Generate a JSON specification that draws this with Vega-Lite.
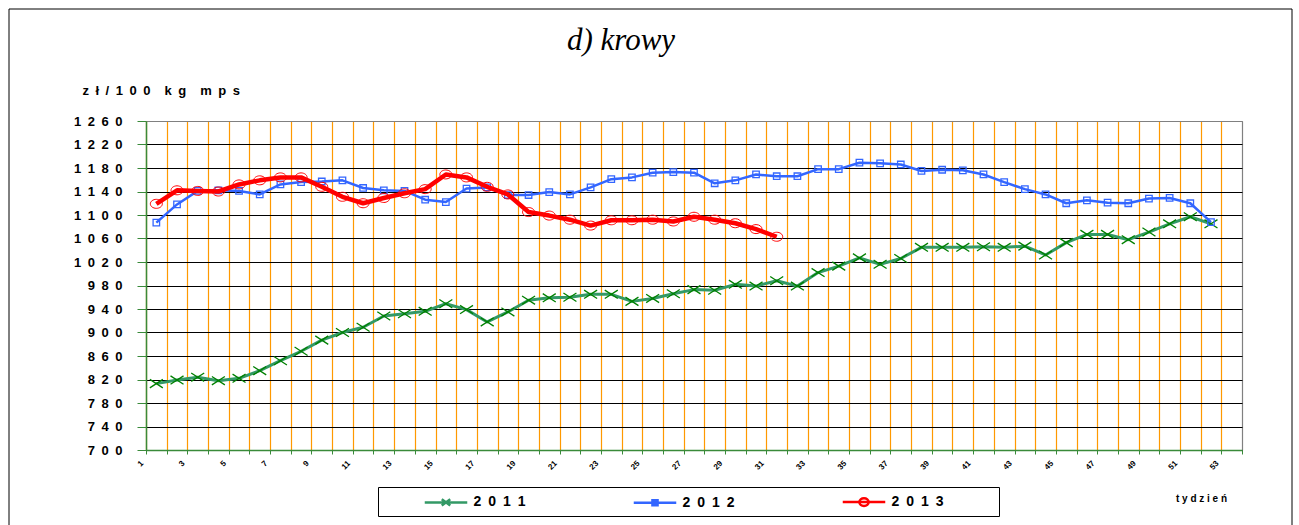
{
  "$schema": "https://vega.github.io/schema/vega-lite/v6.json",
  "width": 1096,
  "height": 329,
  "autosize": {"type": "none"},
  "padding": {"left": 146, "top": 121, "right": 57, "bottom": 75},
  "background": "white",
  "title": {"text": "d) krowy", "font": "Liberation Serif", "fontStyle": "italic", "fontWeight": "normal", "fontSize": 31, "color": "black", "anchor": "middle", "frame": "group", "dx": -73, "offset": -73, "baseline": "alphabetic"},
  "datasets": {
    "prices": [
      {"year":"2011","week":1,"price":813},{"year":"2011","week":2,"price":819},{"year":"2011","week":3,"price":824},{"year":"2011","week":4,"price":818},{"year":"2011","week":5,"price":822},{"year":"2011","week":6,"price":835},{"year":"2011","week":7,"price":852},{"year":"2011","week":8,"price":868},{"year":"2011","week":9,"price":887},{"year":"2011","week":10,"price":900},{"year":"2011","week":11,"price":909},{"year":"2011","week":12,"price":928},{"year":"2011","week":13,"price":932},{"year":"2011","week":14,"price":936},{"year":"2011","week":15,"price":949},{"year":"2011","week":16,"price":939},{"year":"2011","week":17,"price":918},{"year":"2011","week":18,"price":935},{"year":"2011","week":19,"price":955},{"year":"2011","week":20,"price":959},{"year":"2011","week":21,"price":960},{"year":"2011","week":22,"price":965},{"year":"2011","week":23,"price":965},{"year":"2011","week":24,"price":953},{"year":"2011","week":25,"price":958},{"year":"2011","week":26,"price":966},{"year":"2011","week":27,"price":973},{"year":"2011","week":28,"price":972},{"year":"2011","week":29,"price":982},{"year":"2011","week":30,"price":979},{"year":"2011","week":31,"price":988},{"year":"2011","week":32,"price":979},{"year":"2011","week":33,"price":1002},{"year":"2011","week":34,"price":1013},{"year":"2011","week":35,"price":1027},{"year":"2011","week":36,"price":1016},{"year":"2011","week":37,"price":1026},{"year":"2011","week":38,"price":1045},{"year":"2011","week":39,"price":1045},{"year":"2011","week":40,"price":1045},{"year":"2011","week":41,"price":1046},{"year":"2011","week":42,"price":1045},{"year":"2011","week":43,"price":1047},{"year":"2011","week":44,"price":1032},{"year":"2011","week":45,"price":1053},{"year":"2011","week":46,"price":1067},{"year":"2011","week":47,"price":1067},{"year":"2011","week":48,"price":1058},{"year":"2011","week":49,"price":1071},{"year":"2011","week":50,"price":1085},{"year":"2011","week":51,"price":1097},{"year":"2011","week":52,"price":1085},
      {"year":"2012","week":1,"price":1087},{"year":"2012","week":2,"price":1118},{"year":"2012","week":3,"price":1141},{"year":"2012","week":4,"price":1142},{"year":"2012","week":5,"price":1141},{"year":"2012","week":6,"price":1135},{"year":"2012","week":7,"price":1152},{"year":"2012","week":8,"price":1156},{"year":"2012","week":9,"price":1157},{"year":"2012","week":10,"price":1159},{"year":"2012","week":11,"price":1146},{"year":"2012","week":12,"price":1142},{"year":"2012","week":13,"price":1141},{"year":"2012","week":14,"price":1126},{"year":"2012","week":15,"price":1122},{"year":"2012","week":16,"price":1145},{"year":"2012","week":17,"price":1147},{"year":"2012","week":18,"price":1134},{"year":"2012","week":19,"price":1134},{"year":"2012","week":20,"price":1139},{"year":"2012","week":21,"price":1135},{"year":"2012","week":22,"price":1147},{"year":"2012","week":23,"price":1161},{"year":"2012","week":24,"price":1164},{"year":"2012","week":25,"price":1172},{"year":"2012","week":26,"price":1173},{"year":"2012","week":27,"price":1172},{"year":"2012","week":28,"price":1154},{"year":"2012","week":29,"price":1159},{"year":"2012","week":30,"price":1169},{"year":"2012","week":31,"price":1166},{"year":"2012","week":32,"price":1166},{"year":"2012","week":33,"price":1178},{"year":"2012","week":34,"price":1178},{"year":"2012","week":35,"price":1189},{"year":"2012","week":36,"price":1188},{"year":"2012","week":37,"price":1186},{"year":"2012","week":38,"price":1175},{"year":"2012","week":39,"price":1177},{"year":"2012","week":40,"price":1176},{"year":"2012","week":41,"price":1169},{"year":"2012","week":42,"price":1156},{"year":"2012","week":43,"price":1144},{"year":"2012","week":44,"price":1135},{"year":"2012","week":45,"price":1120},{"year":"2012","week":46,"price":1125},{"year":"2012","week":47,"price":1121},{"year":"2012","week":48,"price":1120},{"year":"2012","week":49,"price":1128},{"year":"2012","week":50,"price":1129},{"year":"2012","week":51,"price":1120},{"year":"2012","week":52,"price":1088},
      {"year":"2013","week":1,"price":1119},{"year":"2013","week":2,"price":1142},{"year":"2013","week":3,"price":1141},{"year":"2013","week":4,"price":1140},{"year":"2013","week":5,"price":1152},{"year":"2013","week":6,"price":1159},{"year":"2013","week":7,"price":1164},{"year":"2013","week":8,"price":1164},{"year":"2013","week":9,"price":1148},{"year":"2013","week":10,"price":1131},{"year":"2013","week":11,"price":1120},{"year":"2013","week":12,"price":1129},{"year":"2013","week":13,"price":1137},{"year":"2013","week":14,"price":1144},{"year":"2013","week":15,"price":1169},{"year":"2013","week":16,"price":1164},{"year":"2013","week":17,"price":1148},{"year":"2013","week":18,"price":1135},{"year":"2013","week":19,"price":1105},{"year":"2013","week":20,"price":1099},{"year":"2013","week":21,"price":1092},{"year":"2013","week":22,"price":1082},{"year":"2013","week":23,"price":1091},{"year":"2013","week":24,"price":1091},{"year":"2013","week":25,"price":1092},{"year":"2013","week":26,"price":1089},{"year":"2013","week":27,"price":1097},{"year":"2013","week":28,"price":1092},{"year":"2013","week":29,"price":1086},{"year":"2013","week":30,"price":1076},{"year":"2013","week":31,"price":1063}
    ]
  },
  "data": {"name": "prices"},
  "encoding": {
    "x": {
      "field": "week", "type": "quantitative",
      "scale": {"domain": [0.5, 53.5], "nice": false, "zero": false},
      "axis": {
        "values": [0.5,1.5,2.5,3.5,4.5,5.5,6.5,7.5,8.5,9.5,10.5,11.5,12.5,13.5,14.5,15.5,16.5,17.5,18.5,19.5,20.5,21.5,22.5,23.5,24.5,25.5,26.5,27.5,28.5,29.5,30.5,31.5,32.5,33.5,34.5,35.5,36.5,37.5,38.5,39.5,40.5,41.5,42.5,43.5,44.5,45.5,46.5,47.5,48.5,49.5,50.5,51.5,52.5,53.5],
        "labelExpr": "(datum.value + 0.5) % 2 == 1 && datum.value < 53 ? toString(datum.value + 0.5) : ''",
        "labelAngle": -45, "labelAlign": "right", "labelBaseline": "middle", "labelOffset": -4,
        "labelFont": "Liberation Sans", "labelFontSize": 8, "labelFontWeight": "bold", "labelColor": "black",
        "labelPadding": 8, "labelOverlap": false, "labelFlush": false, "labelBound": false,
        "domainColor": "#3a8a3a", "domainWidth": 1.5,
        "tickColor": "#3a8a3a", "tickSize": 4, "tickWidth": 1,
        "grid": true,
        "gridColor": {"condition": {"test": "datum.value > 53", "value": "#808080"}, "value": "#FF9900"},
        "gridWidth": 1.2, "gridOpacity": 1,
        "title": "t y d z i e ń",
        "titleFont": "Liberation Sans", "titleFontSize": 10, "titleFontWeight": "bold", "titleColor": "black",
        "titleX": 1055, "titleY": 48, "titleAlign": "center", "titleBaseline": "middle"
      }
    },
    "y": {
      "field": "price", "type": "quantitative",
      "scale": {"domain": [700, 1260], "nice": false, "zero": false},
      "axis": {
        "values": [700,740,780,820,860,900,940,980,1020,1060,1100,1140,1180,1220,1260],
        "labelExpr": "join(split(toString(datum.value), ''), '\u2002')",
        "labelFont": "Liberation Sans", "labelFontSize": 13, "labelFontWeight": "bold", "labelColor": "black",
        "labelPadding": 15,
        "domainColor": "#3a8a3a", "domainWidth": 1.5,
        "tickColor": "#3a8a3a", "tickSize": 9, "tickWidth": 1,
        "grid": true,
        "gridColor": {"condition": {"test": "datum.value > 1250", "value": "#808080"}, "value": "black"},
        "gridWidth": 1, "gridOpacity": 1,
        "title": "z\u2002ł\u2002/\u20021\u20020\u20020\u2003\u200ak\u2002g\u2003\u200am\u2002p\u2002s",
        "titleFont": "Liberation Sans", "titleFontSize": 13, "titleFontWeight": "bold", "titleColor": "black",
        "titleAngle": 0, "titleX": -64, "titleY": -31, "titleAlign": "left", "titleBaseline": "middle"
      }
    }
  },
  "layer": [
    {"transform": [{"filter": "datum.year == '2011'"}], "mark": {"type": "line", "color": "#339966", "strokeWidth": 3, "strokeJoin": "round"}},
    {"transform": [{"filter": "datum.year == '2011'"}], "mark": {"type": "point", "shape": "M-1,-0.65L1,0.65M-1,0.65L1,-0.65", "size": 169, "filled": false, "stroke": "#008000", "strokeWidth": 1.3, "opacity": 1}},
    {"transform": [{"filter": "datum.year == '2012'"}], "mark": {"type": "line", "color": "#3366FF", "strokeWidth": 2.5, "strokeJoin": "round"}},
    {"transform": [{"filter": "datum.year == '2012'"}], "mark": {"type": "point", "shape": "square", "size": 42, "filled": false, "stroke": "#3366FF", "strokeWidth": 1.3, "opacity": 1}},
    {"transform": [{"filter": "datum.year == '2013'"}], "mark": {"type": "line", "color": "#FF0000", "strokeWidth": 4.5, "strokeJoin": "round"}},
    {"transform": [{"filter": "datum.year == '2013'"}], "mark": {"type": "point", "shape": "M-1,0A1,0.75 0 1,0 1,0A1,0.75 0 1,0 -1,0Z", "size": 144, "filled": false, "stroke": "#FF0000", "strokeWidth": 1, "opacity": 1}},
    {
      "mark": {"type": "point", "filled": false, "opacity": 0},
      "encoding": {
        "color": {
          "field": "year", "type": "nominal",
          "scale": {"domain": ["2011","2012","2013"], "range": ["#339966","#3366FF","#FF0000"]},
          "legend": {
            "orient": "none", "legendX": 232, "legendY": 366, "direction": "horizontal", "columns": 3,
            "title": " ", "titleOrient": "left", "titlePadding": 53, "titleFontSize": 11,
            "padding": 5, "strokeColor": "black", "fillColor": "white",
            "symbolSize": 289, "symbolStrokeWidth": 2.5, "symbolOpacity": 1,
            "labelOffset": 17.5, "columnPadding": 102, "labelLimit": 400,
            "labelFont": "Liberation Sans", "labelFontSize": 14, "labelFontWeight": "bold", "labelColor": "black",
            "labelExpr": "join(split(datum.label, ''), '\u2002') + ((datum.value == '2013' || datum.label == '2013') ? '\u2800\u2800\u2800\u2800\u2800' : '')"
          }
        },
        "shape": {
          "field": "year", "type": "nominal",
          "scale": {"domain": ["2011","2012","2013"], "range": [
            "M-2.5,0H2.5M-0.5,-0.38L0.5,0.38M-0.5,0.38L0.5,-0.38",
            "M-2.5,0H2.5M-0.3,-0.3H0.3V0.3H-0.3Z",
            "M-2.5,0H2.5M-0.55,0A0.55,0.45 0 1,0 0.55,0A0.55,0.45 0 1,0 -0.55,0Z"
          ]},
          "legend": {
            "orient": "none", "legendX": 232, "legendY": 366, "direction": "horizontal", "columns": 3,
            "title": " ", "titleOrient": "left", "titlePadding": 53, "titleFontSize": 11,
            "padding": 5, "strokeColor": "black", "fillColor": "white",
            "symbolSize": 289, "symbolStrokeWidth": 2.5, "symbolOpacity": 1,
            "labelOffset": 17.5, "columnPadding": 102, "labelLimit": 400,
            "labelFont": "Liberation Sans", "labelFontSize": 14, "labelFontWeight": "bold", "labelColor": "black",
            "labelExpr": "join(split(datum.label, ''), '\u2002') + ((datum.value == '2013' || datum.label == '2013') ? '\u2800\u2800\u2800\u2800\u2800' : '')"
          }
        },
        "strokeDash": {
          "datum": "frame", "type": "nominal",
          "scale": {"domain": ["frame"], "range": [[1, 0]]},
          "legend": {
            "orient": "none", "legendX": -137.5, "legendY": -112.5,
            "title": " ", "titleOrient": "left", "titlePadding": 764, "titleFontSize": 1,
            "padding": 259, "strokeColor": "black",
            "symbolSize": 1, "symbolOpacity": 0, "symbolStrokeWidth": 0,
            "labelExpr": "''", "labelFontSize": 1, "labelOffset": 0
          }
        }
      }
    }
  ],
  "config": {"view": {"stroke": "#808080", "strokeWidth": 1}}
}
